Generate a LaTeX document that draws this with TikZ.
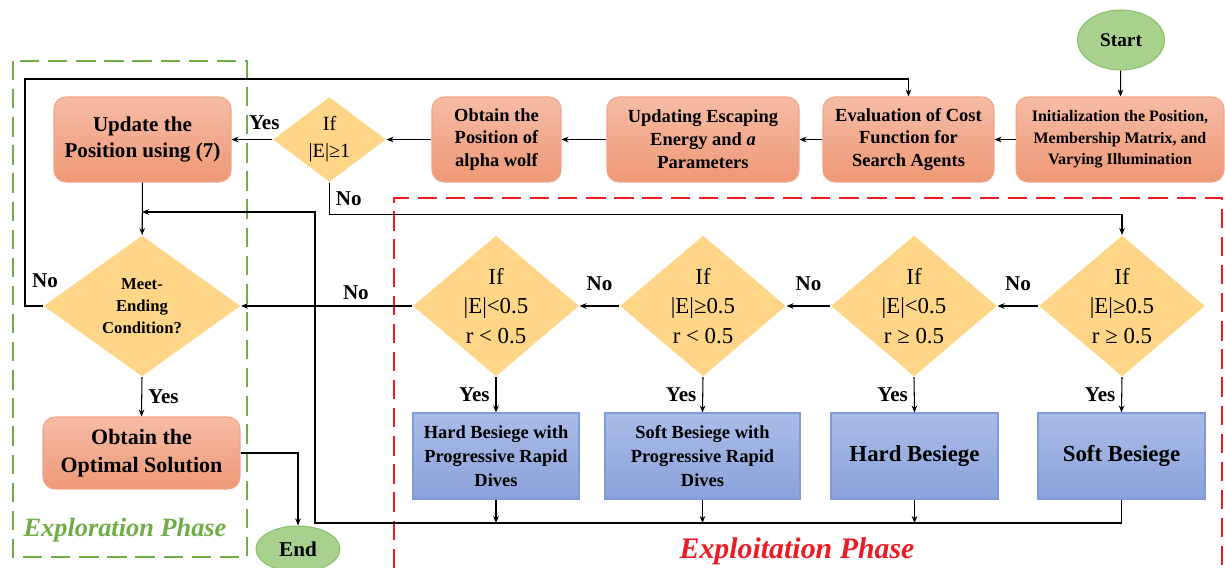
\documentclass[tikz,border=0pt]{standalone}
\usepackage{fontspec}
\setmainfont{Liberation Serif}
\usetikzlibrary{shapes.geometric,arrows.meta}
\definecolor{proctop}{RGB}{246,188,165}
\definecolor{procbot}{RGB}{238,152,118}
\definecolor{procline}{RGB}{240,165,135}
\definecolor{decfill}{RGB}{255,214,135}
\definecolor{siegetop}{RGB}{170,188,232}
\definecolor{siegebot}{RGB}{138,162,218}
\definecolor{siegeline}{RGB}{128,155,215}
\definecolor{termfill}{RGB}{169,209,142}
\definecolor{termline}{RGB}{140,190,110}
\definecolor{phasegreen}{RGB}{112,173,71}
\definecolor{phasered}{RGB}{237,28,36}
\tikzset{
  procbox/.style={rectangle, rounded corners=0.24cm, top color=proctop, bottom color=procbot,
    draw=procline, align=center, inner sep=1pt, font=\bfseries\fontsize{10.5}{13}\selectfont},
  decision/.style={diamond, fill=decfill, align=center, inner sep=0pt,
    font=\fontsize{13}{17}\selectfont},
  siegebox/.style={rectangle, top color=siegetop, bottom color=siegebot, draw=siegeline,
    align=center, inner sep=1pt, font=\bfseries\fontsize{10.5}{13.6}\selectfont},
  terminal/.style={ellipse, fill=termfill, draw=termline, inner sep=0pt,
    font=\bfseries\fontsize{12}{14}\selectfont},
  lbl/.style={font=\bfseries\fontsize{12}{14}\selectfont},
  phasebox/.style={dash pattern=on 11pt off 5pt, line width=1.6pt}
}
\begin{document}
\begin{tikzpicture}[x=0.02cm, y=-0.02cm, >={Stealth[length=4pt,width=3.2pt]}, line width=0.6pt]
      \useasboundingbox (0,0) rectangle (1225,568);
      % phase frames
      \draw[phasebox, draw=phasegreen] (13,61) rectangle (247,557);
      \draw[phasebox, draw=phasered] (394,568) -- (394,198) -- (1222,198) -- (1222,568);
      \node[font=\bfseries\itshape\fontsize{15}{18}\selectfont, text=phasegreen] (explor) at (125,530) {Exploration Phase};
      \node[font=\bfseries\itshape\fontsize{17}{20}\selectfont, text=phasered] (exploit) at (797,551) {Exploitation Phase};

      % top row
      \node[terminal, minimum width=1.74cm, minimum height=1.2cm, font=\bfseries\fontsize{11}{13}\selectfont] (start) at (1121,40) {Start};
      \node[procbox, minimum width=4.16cm, minimum height=1.7cm, font=\bfseries\fontsize{9.1}{12.3}\selectfont] (init) at (1120,139.5)
            {Initialization the Position,\\Membership Matrix, and\\Varying Illumination};
      \node[procbox, minimum width=3.42cm, minimum height=1.7cm] (eval) at (908.5,139.5) {Evaluation of Cost\\Function for\\Search Agents};
      \node[procbox, minimum width=3.84cm, minimum height=1.7cm] (esc) at (703,139.5) {Updating Escaping\\Energy and \textit{a}\\Parameters};
      \node[procbox, minimum width=2.58cm, minimum height=1.7cm] (alpha) at (496.5,139.5) {Obtain the\\Position of\\alpha wolf};
      \node[decision, minimum width=2.26cm, minimum height=1.7cm, aspect=1.33, font=\fontsize{11.5}{15.3}\selectfont] (ifE) at (329.5,139.5) {If\\|E|≥1};
      \node[procbox, minimum width=3.54cm, minimum height=1.7cm, font=\bfseries\fontsize{12}{15.3}\selectfont] (upd) at (142.5,139.5) {Update the\\Position using (7)};

      % exploration column
      \node[decision, minimum width=3.94cm, minimum height=2.82cm, aspect=1.4, font=\bfseries\fontsize{9.5}{12.5}\selectfont] (meet) at (142,306) {Meet-\\Ending\\Condition?};
      \node[procbox, minimum width=3.94cm, minimum height=1.44cm, font=\bfseries\fontsize{12.5}{16}\selectfont] (opt) at (141.5,453) {Obtain the\\Optimal Solution};
      \node[terminal, minimum width=1.68cm, minimum height=0.92cm] (end) at (298,549) {End};

      % exploitation row
      \foreach \n/\x/\t in {d1/496/{|E|<0.5\\r < 0.5}, d2/703/{|E|≥0.5\\r < 0.5},
                            d3/914/{|E|<0.5\\r ≥ 0.5}, d4/1122/{|E|≥0.5\\r ≥ 0.5}}
            \node[decision, minimum width=3.32cm, minimum height=2.82cm, aspect=1.18] (\n) at (\x,306) {If\\\t};
      \node[siegebox, minimum width=3.32cm, minimum height=1.72cm] (hbd) at (496,456) {Hard Besiege with\\Progressive Rapid\\Dives};
      \node[siegebox, minimum width=3.9cm, minimum height=1.72cm] (sbd) at (702.5,456) {Soft Besiege with\\Progressive Rapid\\Dives};
      \node[siegebox, minimum width=3.34cm, minimum height=1.72cm, font=\bfseries\fontsize{13}{16}\selectfont] (hb) at (914.5,456) {Hard Besiege};
      \node[siegebox, minimum width=3.34cm, minimum height=1.72cm, font=\bfseries\fontsize{13}{16}\selectfont] (sb) at (1121.5,456) {Soft Besiege};

      \coordinate (loopL) at (25,79);
      \coordinate (bus) at (315,523);
      \coordinate (join) at (142,212);

      % connectors
      \draw[->] (start) -- (init);
      \draw[->] (init.west) -- (eval.east);
      \draw[->] (eval.west) -- (esc.east);
      \draw[->] (esc.west) -- (alpha.east);
      \draw[->] (alpha.west) -- (ifE.east);
      \draw[->] (ifE.west) -- (upd.east) node[lbl, pos=0.2, above=2pt] (yesU) {Yes};
      \draw[->] (ifE.south) -- ++(0,32) node[lbl, midway, right] (noE) {No} -| (d4.north);
      \draw[->] (upd) -- (meet);
      \draw[->] (meet.west) -| (loopL) -| (eval.north);
      \node[lbl] (noM) at (45,281) {No};
      \draw[->] (meet.south) -- (opt.north) node[lbl, midway, right] (yesM) {Yes};
      \draw[->] (opt.east) -| (end.north);
      \foreach \a/\b in {d4/d3, d3/d2, d2/d1}
            \draw[->] (\a.west) -- (\b.east) node[lbl, midway, above=5pt] (no\a) {No};
      \draw[->] (d1.west) -- (meet.east) node[lbl, pos=0.33, above] (nod1) {No};
      \foreach \d/\b in {d1/hbd, d2/sbd, d3/hb, d4/sb}
            \draw[->] (\d.south) -- (\b.north) node[lbl, midway, left] (yes\d) {Yes};
      \foreach \b in {hbd, sbd, hb}
            \draw[->] (\b.south) -- (\b.south |- bus);
      \draw[->] (sb.south) |- (bus) |- (join);
\end{tikzpicture}
\end{document}
